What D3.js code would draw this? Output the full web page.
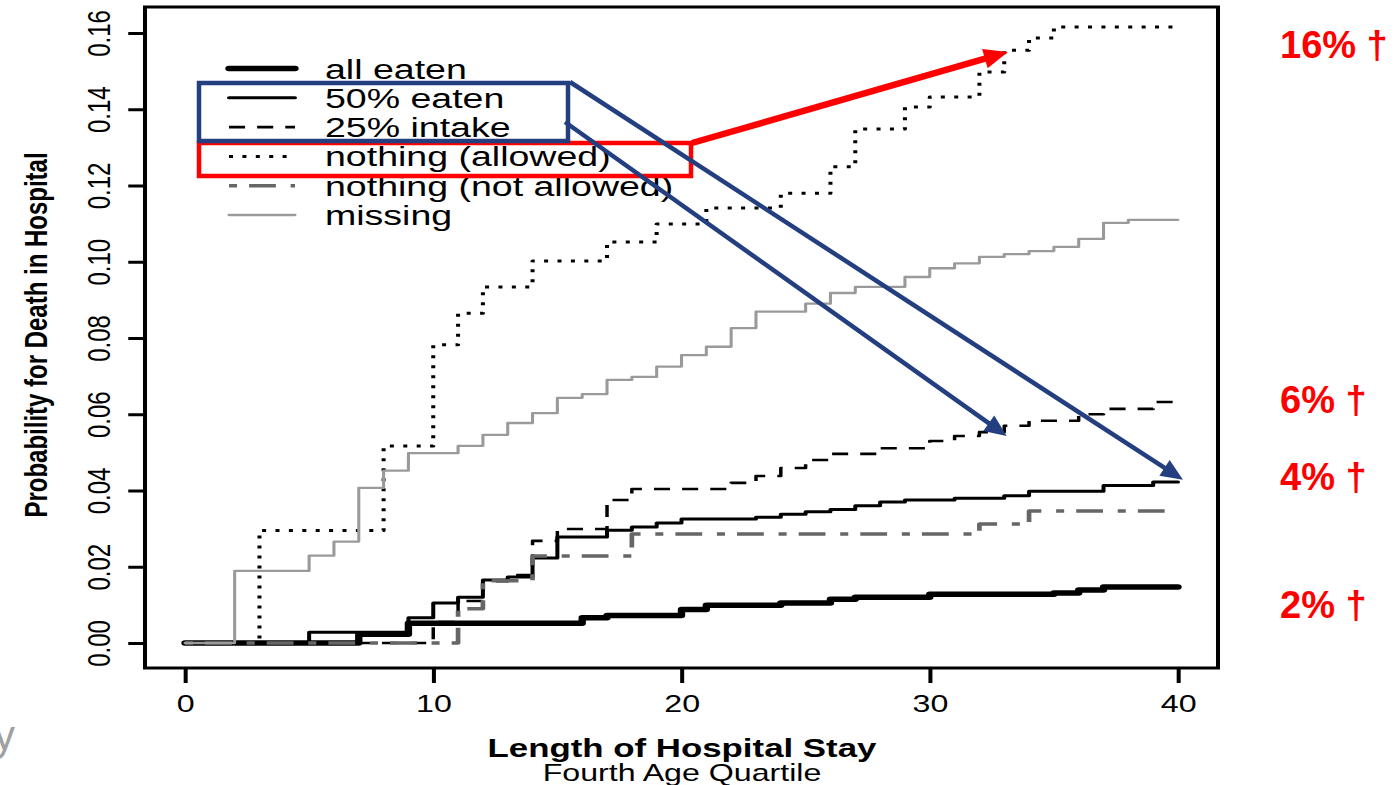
<!DOCTYPE html>
<html lang="en">
<head>
  <meta charset="UTF-8">
  <title>Probability for Death in Hospital</title>
  <script src="https://d3js.org/d3.v7.min.js"></script>
  <style>
    body {
      margin: 0;
      background: #fff;
      font-family: "Liberation Sans", Arial, sans-serif;
    }
    svg {
      display: block;
    }
  </style>
</head>
<body>

<div id="chart"></div>

<script>
  // axis ticks
  const dayTicks = [0, 10, 20, 30, 40];
  const probTicks = [0, 0.02, 0.04, 0.06, 0.08, 0.10, 0.12, 0.14, 0.16];

  // series names, in legend order
  const seriesNames = ["all eaten", "50% eaten", "25% intake", "nothing (allowed)", "nothing (not allowed)", "missing"];

  // step curves: day where the step happens, probability after it
  const allEatenDays = [0, 7, 9, 16, 17, 20, 21, 24, 26, 27, 30, 35, 36, 37, 40];
  const allEatenProb = [0, 0.0023, 0.0052, 0.0066, 0.0072, 0.0088, 0.0099, 0.0105, 0.0115, 0.0120, 0.0128, 0.0131, 0.0139, 0.0147, 0.0147];

  const fiftyDays = [0, 5, 9, 10, 11, 12, 13, 14, 15, 17, 18, 19, 20, 23, 24, 25, 26, 27, 28, 29, 31, 33, 34, 37, 39, 40];
  const fiftyProb = [0, 0.0028, 0.0066, 0.0105, 0.0120, 0.0165, 0.0173, 0.0223, 0.0278, 0.0296, 0.0304, 0.0315, 0.0325, 0.0330, 0.0338, 0.0344, 0.0350, 0.0360, 0.0370, 0.0375, 0.0380, 0.0386, 0.0398, 0.0413, 0.0422, 0.0422];

  const quarterDays = [0, 10, 11, 12, 13, 14, 15, 17, 18, 22, 23, 24, 25, 26, 28, 30, 31, 32, 33, 34, 36, 37, 39, 40];
  const quarterProb = [0, 0.0055, 0.0110, 0.0162, 0.0178, 0.0268, 0.0299, 0.0375, 0.0404, 0.0420, 0.0438, 0.0459, 0.0480, 0.0496, 0.0511, 0.0530, 0.0543, 0.0553, 0.0570, 0.0583, 0.0600, 0.0614, 0.0632, 0.0632];

  const allowedDays = [0, 3, 8, 10, 11, 12, 14, 17, 19, 21, 24, 26, 27, 29, 30, 32, 33, 34, 35, 40];
  const allowedProb = [0, 0.0295, 0.0517, 0.0782, 0.0865, 0.0934, 0.1002, 0.1052, 0.1099, 0.1141, 0.1180, 0.1249, 0.1348, 0.1406, 0.1432, 0.1498, 0.1555, 0.1587, 0.1616, 0.1616];

  const notAllowedDays = [0, 11, 12, 14, 18, 32, 34, 40];
  const notAllowedProb = [0, 0.0090, 0.0163, 0.0228, 0.0286, 0.0312, 0.0346, 0.0346];

  const missingDays = [0, 2, 5, 6, 7, 8, 9, 11, 12, 13, 14, 15, 16, 17, 18, 19, 20, 21, 22, 23, 25, 26, 27, 29, 30, 31, 32, 33, 34, 35, 36, 37, 38, 40];
  const missingProb = [0, 0.0189, 0.0229, 0.0266, 0.0407, 0.0452, 0.0498, 0.0517, 0.0546, 0.0577, 0.0603, 0.0643, 0.0653, 0.0690, 0.0698, 0.0725, 0.0755, 0.0777, 0.0826, 0.0869, 0.0890, 0.0918, 0.0934, 0.0960, 0.0983, 0.0996, 0.1013, 0.1020, 0.1028, 0.1039, 0.1060, 0.1102, 0.1110, 0.1110];

  // red labels on the right, placed at the height they sit in the original
  const deathLabels = ["16% †", "6% †", "4% †", "2% †"];
  const deathLabelProb = [0.1569, 0.0637, 0.0435, 0.0100];

  const W = 1396, H = 785;
  const S = 1.34; // the original picture is stretched sideways

  const series = [
    {days: allEatenDays, prob: allEatenProb, color: "#000", width: 5.5, dash: null, cap: "round"},
    {days: fiftyDays, prob: fiftyProb, color: "#000", width: 3, dash: null, cap: "round"},
    {days: quarterDays, prob: quarterProb, color: "#000", width: 2.6, dash: "12,9", cap: "butt"},
    {days: allowedDays, prob: allowedProb, color: "#000", width: 3, dash: "3,7", cap: "butt"},
    {days: notAllowedDays, prob: notAllowedProb, color: "#666", width: 3.5, dash: "6,9,20,11", cap: "butt"},
    {days: missingDays, prob: missingProb, color: "#9a9a9a", width: 2.3, dash: null, cap: "round"}
  ];

  const svg = d3.select("#chart")
    .append("svg")
    .attr("width", W)
    .attr("height", H);

  // everything of the R plot goes in a group stretched by S
  const g = svg.append("g").attr("transform", `scale(${S},1)`);

  const x = d3.scaleLinear().domain([0, 40]).range([185 / S, 1178 / S]);
  const y = d3.scaleLinear().domain([0, 0.16]).range([643, 33]);

  // step lines
  const line = d3.line()
    .x(d => x(d[0]))
    .y(d => y(d[1]))
    .curve(d3.curveStepAfter);

  series.forEach(s => {
    g.append("path")
      .datum(s.days.map((d, i) => [d, s.prob[i]]))
      .attr("d", line)
      .attr("fill", "none")
      .attr("stroke", s.color)
      .attr("stroke-width", s.width)
      .attr("stroke-dasharray", s.dash)
      .attr("stroke-linecap", s.cap)
      .attr("stroke-linejoin", "round");
  });

  // box
  g.append("rect")
    .attr("x", 145 / S)
    .attr("y", 7)
    .attr("width", (1218 - 145) / S)
    .attr("height", 661)
    .attr("fill", "none")
    .attr("stroke", "#000")
    .attr("stroke-width", 3);

  // x axis
  const xAxis = g.append("g")
    .attr("transform", "translate(0,668)")
    .call(d3.axisBottom(x).tickValues(dayTicks).tickSize(15).tickFormat(d3.format("d")));
  xAxis.select(".domain").remove();
  xAxis.selectAll("line").attr("stroke", "#000").attr("stroke-width", 3);
  xAxis.selectAll("text")
    .attr("y", 44)
    .attr("dy", null)
    .attr("fill", "#000")
    .style("font-size", "24px")
    .style("font-family", "'Liberation Sans', Arial, sans-serif");

  // y axis
  const yAxis = g.append("g")
    .attr("transform", `translate(${145 / S},0)`)
    .call(d3.axisLeft(y).tickValues(probTicks).tickSize(12.5).tickFormat(d3.format(".2f")));
  yAxis.select(".domain").remove();
  yAxis.selectAll("line").attr("stroke", "#000").attr("stroke-width", 3);
  yAxis.selectAll("text")
    .attr("x", null)
    .attr("dy", null)
    .attr("text-anchor", "middle")
    .attr("transform", `translate(${(110 - 145) / S},0) rotate(-90)`)
    .attr("fill", "#000")
    .style("font-size", "24px")
    .style("font-family", "'Liberation Sans', Arial, sans-serif");

  // axis titles
  g.append("text")
    .attr("transform", `translate(${47 / S},335) rotate(-90)`)
    .attr("text-anchor", "middle")
    .style("font-size", "24px")
    .style("font-weight", "bold")
    .text("Probability for Death in Hospital");

  g.append("text")
    .attr("x", 682 / S)
    .attr("y", 757)
    .attr("text-anchor", "middle")
    .style("font-size", "26px")
    .style("font-weight", "bold")
    .text("Length of Hospital Stay");

  g.append("text")
    .attr("x", 682 / S)
    .attr("y", 781)
    .attr("text-anchor", "middle")
    .style("font-size", "24px")
    .text("Fourth Age Quartile");

  // legend
  const legendTop = 68.5, legendStep = 29.3;
  const legend = g.selectAll(".legend-item")
    .data(series)
    .join("g")
    .attr("class", "legend-item")
    .attr("transform", (d, i) => `translate(0,${legendTop + i * legendStep})`);

  legend.append("line")
    .attr("x1", 229 / S)
    .attr("x2", 295 / S)
    .attr("stroke", d => d.color)
    .attr("stroke-width", d => d.width)
    .attr("stroke-dasharray", d => d.dash)
    .attr("stroke-linecap", d => d.cap);

  legend.append("text")
    .attr("x", 325 / S)
    .attr("y", 10)
    .style("font-size", "28px")
    .text((d, i) => seriesNames[i]);

  // bit of a cut-off word at the bottom left
  svg.append("text")
    .attr("x", -6)
    .attr("y", 750)
    .attr("fill", "#a0a0a0")
    .style("font-size", "42px")
    .text("y");

  // annotations, not stretched
  const ann = svg.append("g");
  const red = "#ff0000", blue = "#233f80";

  ann.append("rect")
    .attr("x", 199).attr("y", 143)
    .attr("width", 492).attr("height", 33)
    .attr("fill", "none").attr("stroke", red).attr("stroke-width", 4.5);

  ann.append("rect")
    .attr("x", 199).attr("y", 83)
    .attr("width", 369).attr("height", 58)
    .attr("fill", "none").attr("stroke", blue).attr("stroke-width", 4.5);

  function arrow(x1, y1, x2, y2, color, w, headLen, headW) {
    const a = Math.atan2(y2 - y1, x2 - x1);
    const c = Math.cos(a), s = Math.sin(a);
    const bx = x2 - headLen * c, by = y2 - headLen * s;
    ann.append("line")
      .attr("x1", x1).attr("y1", y1)
      .attr("x2", bx + 2 * c).attr("y2", by + 2 * s)
      .attr("stroke", color).attr("stroke-width", w);
    ann.append("polygon")
      .attr("points", [
        [x2, y2],
        [bx - s * headW / 2, by + c * headW / 2],
        [bx + s * headW / 2, by - c * headW / 2]
      ].map(p => p.join(",")).join(" "))
      .attr("fill", color);
  }

  // arrow tips point at the curves
  arrow(692, 143, x(33.15) * S, y(0.155), red, 6.5, 24, 20);
  arrow(570, 82, x(40.2) * S, y(0.0428), blue, 4.5, 22, 19);
  arrow(565, 122, x(33.1) * S, y(0.0543), blue, 4.5, 22, 19);

  // red percent labels
  ann.selectAll(".death")
    .data(deathLabels)
    .join("text")
    .attr("class", "death")
    .attr("x", 1280)
    .attr("y", (d, i) => y(deathLabelProb[i]) + 13)
    .attr("fill", red)
    .style("font-size", "38px")
    .style("font-weight", "bold")
    .text(d => d);
</script>

</body>
</html>
